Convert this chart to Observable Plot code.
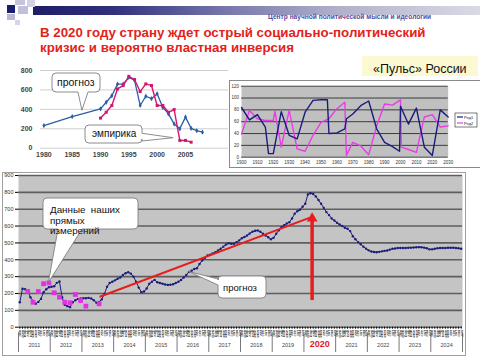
<!DOCTYPE html>
<html><head><meta charset="utf-8">
<script src="https://cdn.jsdelivr.net/npm/d3@7"></script>
<script src="https://cdn.jsdelivr.net/npm/@observablehq/plot@0.6"></script>
<style>
html,body{margin:0;padding:0;background:#fff;}
#slide{position:relative;width:480px;height:360px;overflow:hidden;background:#fff;font-family:"Liberation Sans",Arial,Helvetica,sans-serif;}
.a{position:absolute;}
#slide svg{position:absolute;overflow:visible;}
</style></head><body>
<div id="slide">
 <div class="a" style="left:33px;top:6px;width:447px;height:9px;background:linear-gradient(to right,#1e1e68 0%,#30307c 18%,#7474aa 42%,#b0b0cc 68%,#dadae6 100%)"></div>
 <div class="a" style="left:15px;top:0px;width:10px;height:5px;background:#c4c4dc"></div>
 <div class="a" style="left:27px;top:0px;width:8px;height:7px;background:#d2d2e4"></div>
 <div class="a" style="left:18px;top:6px;width:10px;height:8px;background:#c0c0da"></div>
 <div class="a" style="left:7px;top:5px;width:8px;height:8px;background:#1c1c6c"></div>
 <div class="a" style="left:7px;top:14px;width:8px;height:6px;background:#b8b8d4"></div>
 <div class="a" style="left:15px;top:20px;width:5px;height:5px;background:#d4d4e6"></div>
 <div class="a" style="left:268px;top:12.5px;font-size:6.6px;font-weight:bold;color:#5a4c9c;white-space:nowrap">Центр научной политической мысли и идеологии</div>
 <div class="a" style="left:40px;top:24.5px;font-size:13.3px;font-weight:bold;color:#e2231a;line-height:15px;white-space:nowrap">В 2020 году страну ждет острый социально-политический<br>кризис и вероятно властная инверсия</div>
 <div class="a" style="left:362px;top:56px;width:116px;height:20px;background:#fbf8d2"></div>
 <div class="a" style="left:373px;top:61.7px;font-size:12.5px;color:#111;white-space:nowrap">«Пульс» России</div>
 <div class="a" style="left:229px;top:80px;width:260px;height:88px;border:1px solid #8a8a8a;box-sizing:border-box"></div>
 <div class="a" style="left:2px;top:172px;width:464px;height:184px;border:1px solid #a0a0a0;box-sizing:border-box"></div>
</div>
<script>
// ---------- data: historical chart (top left) ----------
const forecastYears = [1980,1985,1990,1991,1992,1993,1994,1995,1996,1997,1998,1999,2000,2001,2002,2003,2004,2005,2006,2007,2008];
const forecastValues = [233,326,405,473,540,660,660,730,700,440,535,510,560,420,353,250,200,320,205,180,165];
const empiricYears = [1990,1991,1992,1993,1994,1995,1996,1997,1998,1999,2000,2001,2002,2003,2004,2005,2006];
const empiricValues = [310,370,440,610,645,740,707,583,662,645,440,440,370,398,80,80,62];
const histYTicks = [0,200,400,600,800];
const histXTicks = [1980,1985,1990,1995,2000,2005];
const histNotes = ["прогноз","эмпирика"];
const histNoteAnchors = [[1986.8,385],[2002.9,103]];

// ---------- data: "Пульс" chart ----------
const pulseNames = ["Ряд1","Ряд2"];
const pulseYears1 = [1900,1905,1910,1915,1917,1920,1925,1930,1935,1940,1945,1950,1954,1955,1960,1965,1966,1970,1975,1980,1985,1990,1995,1999.4,2000,2005,2010,2015,2020,2025,2030];
const pulseValues1 = [84,63,72,51,6,6,77,37,31,76,96,97,97,40,41,48,65,73,87,95,48,25,18,10,86,56,83,17,3,80,68];
const pulseYears2 = [1900,1905,1910,1915,1920,1921,1925,1930,1935,1940,1945,1950,1955,1960,1965,1966,1970,1975,1980,1985,1990,1995,2000,2000.5,2005,2010,2015,2020,2025,2030];
const pulseValues2 = [39,79,65,62,62,78,17,79,14,10,37,59,65,82,93,3,25,19,4,53,90,88,97,17,13,8,68,72,51,53];
const pulseYTicks = [0,20,40,60,80,100,120];
const pulseXTicks = [1900,1910,1920,1930,1940,1950,1960,1970,1980,1990,2000,2010,2020,2030];

// ---------- data: main monthly chart 2011-2024 ----------
const mainYears = [2011,2012,2013,2014,2015,2016,2017,2018,2019,2020,2021,2022,2023,2024];
const highlightYear = 2020;
const monthNames = ["янв","фев","мар","апр","май","июн","июл","авг","сен","окт","ноя","дек"];
const mainMonthly = [
 148,228,225,218,178,155,139,150,168,208,225,237,   // 2011
 240,243,263,271,178,133,125,119,148,160,168,170,   // 2012
 172,172,174,170,160,145,150,165,198,240,262,270,   // 2013
 278,287,295,310,320,326,318,300,270,235,208,212,   // 2014
 230,258,270,281,267,262,258,253,251,252,255,262,   // 2015
 270,280,295,310,328,335,345,350,375,396,410,426,   // 2016
 430,438,445,455,465,478,490,498,495,495,505,515,   // 2017
 528,535,544,556,566,572,574,566,554,544,534,522,   // 2018
 530,554,575,594,605,615,623,645,673,688,697,715,   // 2019
 732,788,795,790,776,755,732,708,683,665,645,633,   // 2020
 620,609,600,590,584,570,540,522,505,492,478,466,   // 2021
 456,449,446,445,447,450,453,455,460,465,467,470,   // 2022
 470,470,470,471,472,473,474,475,474,472,468,462,   // 2023
 462,465,468,470,470,470,471,471,471,470,468,465    // 2024
];
const measuredMonths = [3,5,7,9,11,13,15,17,19,21,23,25,30];
const measuredValues = [212,148,212,258,263,204,178,148,145,194,158,125,139];
const trendMonths = [30.5,109.3];
const trendValues = [182,647];
const arrowMonth = 110.6;
const arrowFrom = 158, arrowTo = 645;
const mainYTicks = [0,100,200,300,400,500,600,700,800,900];
const mainNotes = [["Данные\u00a0\u00a0наших","прямых","измерений"],["прогноз"]];

const FONT = "Liberation Sans, Arial, Helvetica, sans-serif";
const slide = document.getElementById("slide");

function bubble(svg, o) {
  const [x0,y0,x1,y1] = o.box, r = 4;
  const [tx,ty] = o.tip;
  let p = `M${x0+r},${y0}L${x1-r},${y0}Q${x1},${y0} ${x1},${y0+r}`;
  if (o.side==="right") p += `L${x1},${o.b[0]}L${tx},${ty}L${x1},${o.b[1]}`;
  p += `L${x1},${y1-r}Q${x1},${y1} ${x1-r},${y1}`;
  if (o.side==="bottom") p += `L${o.b[1]},${y1}L${tx},${ty}L${o.b[0]},${y1}`;
  p += `L${x0+r},${y1}Q${x0},${y1} ${x0},${y1-r}`;
  if (o.side==="left") p += `L${x0},${o.b[1]}L${tx},${ty}L${x0},${o.b[0]}`;
  p += `L${x0},${y0+r}Q${x0},${y0} ${x0+r},${y0}Z`;
  const g = d3.select(svg).append("g").attr("text-anchor","start");
  g.append("path").attr("d",p).attr("fill","#fff").attr("stroke","#808080").attr("stroke-width",0.9);
  o.lines.forEach((t,i)=> g.append("text").attr("x",o.tx).attr("y",o.ty+i*(o.lh||0)).attr("text-anchor","start")
    .attr("font-size",o.fs).attr("font-weight","normal").attr("font-family",FONT).attr("fill","#111").text(t));
}
function place(svg, left, top) { svg.style.left = left+"px"; svg.style.top = top+"px"; slide.appendChild(svg); }

// ---------- top-left historical chart ----------
const forecast = forecastYears.map((x,i)=>({x, y: forecastValues[i]}));
const empiric = empiricYears.map((x,i)=>({x, y: empiricValues[i]}));
const hist = Plot.plot({
  width: 228, height: 110, marginLeft: 40, marginRight: 0, marginTop: 15, marginBottom: 17.3,
  x: {domain: [1979.4, 2012.6], label: null}, y: {domain: [0, 800], label: null},
  style: {background: "transparent", fontFamily: FONT, fontWeight: "bold", overflow: "visible"},
  marks: [
    Plot.gridY(histYTicks, {stroke: "#cfcfcf", strokeOpacity: 1}),
    Plot.axisY(histYTicks, {tickSize: 0, tickPadding: 8, fontSize: 7, fill: "#444", label: null}),
    Plot.axisX(histXTicks, {tickSize: 0, tickPadding: 4, fontSize: 7, fill: "#444", label: null, tickFormat: d => String(d)}),
    Plot.line(forecast, {x: "x", y: "y", stroke: "#2b5ea8", strokeWidth: 1.3}),
    Plot.dot(forecast, {x: "x", y: "y", symbol: "diamond", r: 1.6, fill: "#2b5ea8"}),
    Plot.line(empiric, {x: "x", y: "y", stroke: "#d3176e", strokeWidth: 1.4}),
    Plot.dot(empiric, {x: "x", y: "y", symbol: "square", r: 1.7, fill: "#d3176e"})
  ]
});
place(hist, 0, 55);
{
  const hx = hist.scale("x"), hy = hist.scale("y");
  bubble(hist, {box: [52,18,100,37], side: "bottom", b: [78,88], tip: [hx.apply(histNoteAnchors[0][0]), hy.apply(histNoteAnchors[0][1])],
    lines: [histNotes[0]], tx: 57, ty: 30.8, fs: 10.5});
  bubble(hist, {box: [85,70,142,88], side: "right", b: [78.3,86], tip: [hx.apply(histNoteAnchors[1][0]), hy.apply(histNoteAnchors[1][1])],
    lines: [histNotes[1]], tx: 92, ty: 82, fs: 10});
}

// ---------- "Пульс" chart ----------
const p1 = pulseYears1.map((x,i)=>({x, y: pulseValues1[i]}));
const p2 = pulseYears2.map((x,i)=>({x, y: pulseValues2[i]}));
const pulseColors = ["#1b1b7e", "#e83ce8"];
const pulse = Plot.plot({
  width: 252, height: 88, marginLeft: 13, marginRight: 32.3, marginTop: 5.7, marginBottom: 11.3,
  x: {domain: [1900, 2030], label: null}, y: {domain: [0, 120], label: null},
  style: {background: "transparent", fontFamily: FONT, overflow: "visible"},
  marks: [
    Plot.frame({fill: "#c0c0c0", stroke: null}),
    Plot.gridY(pulseYTicks, {stroke: "#1a1a1a", strokeOpacity: 1, strokeWidth: 0.8}),
    Plot.axisY(pulseYTicks, {tickSize: 0, tickPadding: 2.5, fontSize: 4.5, fill: "#333", label: null}),
    Plot.axisX(pulseXTicks, {tickSize: 0, tickPadding: 4, fontSize: 4.5, fill: "#333", label: null, tickFormat: d => String(d)}),
    Plot.line(p2, {x: "x", y: "y", stroke: pulseColors[1], strokeWidth: 1.4}),
    Plot.line(p1, {x: "x", y: "y", stroke: pulseColors[0], strokeWidth: 1.4})
  ]
});
place(pulse, 228, 80);
{
  const g = d3.select(pulse).append("g").attr("text-anchor","start");
  g.append("rect").attr("x",227).attr("y",33).attr("width",22).attr("height",14).attr("fill","#fff").attr("stroke","#222").attr("stroke-width",0.6);
  pulseNames.forEach((n,i)=>{
    g.append("line").attr("x1",229).attr("x2",235).attr("y1",37+i*6).attr("y2",37+i*6).attr("stroke",pulseColors[i]).attr("stroke-width",1.2);
    g.append("text").attr("x",236).attr("y",38.5+i*6).attr("text-anchor","start").attr("font-size",4).attr("font-family",FONT).attr("fill","#222").text(n);
  });
}

// ---------- main chart ----------
const mainData = mainMonthly.map((v,i)=>({x: i+0.5, y: v}));
const measured = measuredMonths.map((m,i)=>({x: m+0.5, y: measuredValues[i]}));
const trend = trendMonths.map((m,i)=>({x: m+0.5, y: trendValues[i]}));
const yearCenters = mainYears.map((y,i)=>({x: i*12+6, year: y}));
const main = Plot.plot({
  width: 480, height: 190, marginLeft: 18, marginRight: 18, marginTop: 5, marginBottom: 33.3,
  x: {domain: [0, 168], label: null}, y: {domain: [0, 900], label: null},
  style: {background: "transparent", fontFamily: FONT, overflow: "visible"},
  marks: [
    Plot.frame({fill: "#c4c4c4", stroke: null}),
    Plot.gridY(mainYTicks.slice(1), {stroke: "#5e5e5e", strokeOpacity: 1, strokeWidth: 1.6}),
    Plot.ruleY([0], {stroke: "#333", strokeWidth: 1}),
    Plot.axisY(mainYTicks, {tickSize: 3, tickPadding: 2, fontSize: 5.5, fill: "#333", label: null}),
    Plot.axisX(d3.range(168).map(i=>i+0.5), {tickSize: 2, tickPadding: 0.5, tickRotate: -90, fontSize: 4.2, fill: "#111", label: null,
      tickFormat: d => monthNames[Math.floor(d) % 12]}),
    Plot.ruleX(d3.range(0, 169, 12), {y1: -33, y2: -150, stroke: "#555", strokeWidth: 0.8}),
    Plot.text(yearCenters.filter(d => d.year !== highlightYear), {x: "x", text: d => String(d.year), frameAnchor: "bottom", dy: 19.5, fontSize: 5.5, fill: "#444"}),
    Plot.text(yearCenters.filter(d => d.year === highlightYear), {x: "x", text: d => String(d.year), frameAnchor: "bottom", dy: 19.5, fontSize: 9, fontWeight: "bold", fill: "#e0201c"}),
    Plot.line(mainData, {x: "x", y: "y", stroke: "#1c1c7a", strokeWidth: 1}),
    Plot.dot(mainData, {x: "x", y: "y", r: 1.2, fill: "#1c1c7a"}),
    Plot.dot(measured, {x: "x", y: "y", symbol: "square", r: 2.7, fill: "#e231e2"}),
    Plot.line(trend, {x: "x", y: "y", stroke: "#e81c1c", strokeWidth: 2}),
    Plot.ruleX([arrowMonth + 0.5], {y1: arrowFrom, y2: arrowTo - 10, stroke: "#e81c1c", strokeWidth: 3.5}),
    Plot.dot([arrowMonth + 0.5], {x: d => d, y: () => arrowTo, symbol: "triangle", r: 4, fill: "#e81c1c"})
  ]
});
place(main, 0, 170);
{
  const mx = main.scale("x"), my = main.scale("y");
  bubble(main, {box: [43,28,138,59], side: "bottom", b: [58,82], tip: [mx.apply(measured[4].x), my.apply(measured[4].y)],
    lines: mainNotes[0], tx: 50, ty: 42.7, lh: 10.8, fs: 9.8});
  bubble(main, {box: [218,106,266,128], side: "left", b: [109,115], tip: [mx.apply(mainData[64].x), my.apply(mainData[64].y)],
    lines: mainNotes[1], tx: 223, ty: 121.3, fs: 9.5});
}
</script>
</body></html>
